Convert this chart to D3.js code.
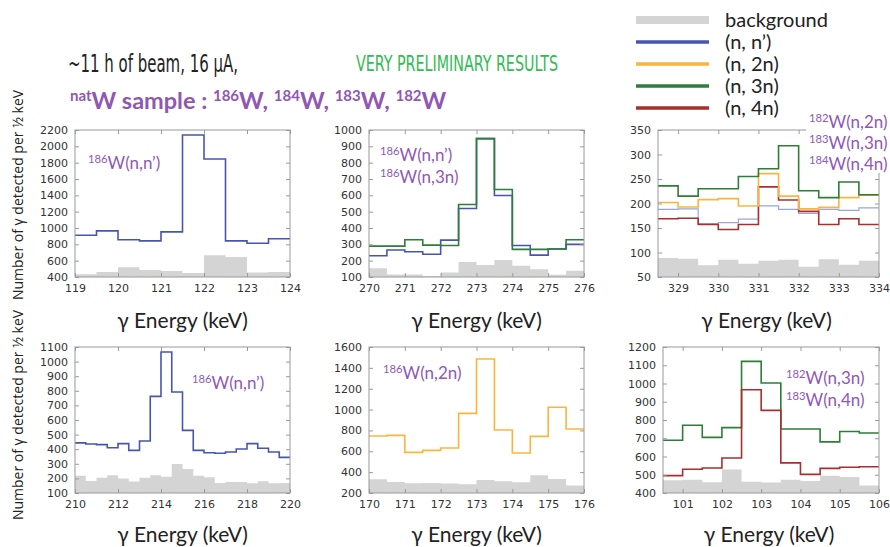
<!DOCTYPE html>
<html><head><meta charset="utf-8">
<script src="https://cdn.jsdelivr.net/npm/d3@7"></script>
<style>body{margin:0;background:#fff}</style>
</head><body>
<svg id="c" width="890" height="547"></svg>
<script>
// ---------- DATA (counts per 0.5 keV bin) ----------
const p1X = [119, 124], p1Y = [400, 2200];
const p1XTicks = [119, 120, 121, 122, 123, 124];
const p1YTicks = [400, 600, 800, 1000, 1200, 1400, 1600, 1800, 2000, 2200];
const p1_bg = [433, 462, 519, 486, 474, 450, 666, 646, 454, 462];
const p1_nn = [912, 965, 856, 842, 952, 2139, 1844, 842, 813, 868];

const p2X = [270, 276], p2Y = [100, 1000];
const p2XTicks = [270, 271, 272, 273, 274, 275, 276];
const p2YTicks = [100, 200, 300, 400, 500, 600, 700, 800, 900, 1000];
const p2_bg = [153, 116, 116, 106, 127, 192, 173, 204, 169, 147, 114, 139];
const p2_nn = [230, 265, 255, 239, 326, 519, 947, 599, 293, 234, 271, 300];
const p2_3n = [289, 289, 328, 295, 293, 544, 947, 636, 269, 269, 271, 328];

const p3X = [328.5, 334], p3Y = [50, 350];
const p3XTicks = [329, 330, 331, 332, 333, 334];
const p3YTicks = [50, 100, 150, 200, 250, 300, 350];
const p3_bg = [89, 87, 74, 85, 77, 83, 85, 71, 86, 75, 83];
const p3_nn = [188, 189, 159, 161, 168, 195, 188, 180, 188, 186, 191];
const p3_2n = [202, 193, 208, 210, 195, 261, 215, 189, 192, 212, 217];
const p3_3n = [236, 215, 230, 230, 255, 271, 318, 226, 212, 244, 218];
const p3_4n = [169, 170, 157, 147, 157, 234, 207, 184, 157, 169, 157];

const p4X = [210, 220], p4Y = [100, 1100];
const p4XTicks = [210, 212, 214, 216, 218, 220];
const p4YTicks = [100, 200, 300, 400, 500, 600, 700, 800, 900, 1000, 1100];
const p4_bg = [219, 182, 205, 221, 200, 178, 205, 221, 212, 299, 265, 219, 208, 169, 176, 176, 166, 180, 166, 169];
const p4_nn = [443, 436, 431, 410, 438, 392, 456, 762, 1066, 792, 529, 392, 376, 372, 381, 401, 438, 406, 381, 344];

const p5X = [170, 176], p5Y = [200, 1600];
const p5XTicks = [170, 171, 172, 173, 174, 175, 176];
const p5YTicks = [200, 400, 600, 800, 1000, 1200, 1400, 1600];
const p5_bg = [331, 305, 293, 296, 290, 283, 325, 312, 302, 370, 334, 273];
const p5_2n = [747, 753, 590, 609, 632, 964, 1485, 804, 584, 743, 1022, 814];

const p6X = [100.5, 106], p6Y = [400, 1200];
const p6XTicks = [101, 102, 103, 104, 105, 106];
const p6YTicks = [400, 500, 600, 700, 800, 900, 1000, 1100, 1200];
const p6_bg = [470, 473, 459, 529, 462, 457, 473, 466, 495, 488, 441];
const p6_3n = [689, 771, 705, 758, 1121, 1003, 751, 751, 680, 737, 729];
const p6_4n = [495, 530, 537, 592, 966, 853, 565, 502, 535, 541, 544];

const legendLabels = ["background", "(n, n\u2019)", "(n, 2n)", "(n, 3n)", "(n, 4n)"];
const binWidth = 0.5;

// ---------- STYLE ----------
const C = {bg: "#d4d4d4", nn: "#4656b0", nnLight: "#9aa6d6", n2: "#fbb53e", n3: "#2e7d38", n4: "#a92f2f",
           purple: "#8f58b3", green: "#33bb55", frame: "#9a9a9a", tick: "#333"};
const svg = d3.select("#c");
const purpleAnn = (g, x, y, sup, rest, size) => {
  const t = g.append("text").attr("x", x).attr("y", y).attr("fill", C.purple)
    .attr("font-family", "Lato, 'Open Sans', sans-serif").attr("font-size", size || 17);
  t.append("tspan").attr("font-size", (size || 17) * 0.66).attr("dy", -6).text(sup);
  t.append("tspan").attr("dy", 6).text(rest);
  return t;
};

const panels = [
  {box: [75, 290, 130, 277], X: p1X, Y: p1Y, xt: p1XTicks, yt: p1YTicks, bg: p1_bg,
   lines: [[p1_nn, C.nn, 1.6]]},
  {box: [369, 584, 130, 277], X: p2X, Y: p2Y, xt: p2XTicks, yt: p2YTicks, bg: p2_bg,
   lines: [[p2_nn, C.nn, 1.6], [p2_3n, C.n3, 1.6]]},
  {box: [658, 879, 130, 277], X: p3X, Y: p3Y, xt: p3XTicks, yt: p3YTicks, bg: p3_bg,
   lines: [[p3_nn, C.nnLight, 1.2], [p3_4n, C.n4, 1.6], [p3_2n, C.n2, 1.6], [p3_3n, C.n3, 1.6]]},
  {box: [75, 290, 347, 493], X: p4X, Y: p4Y, xt: p4XTicks, yt: p4YTicks, bg: p4_bg,
   lines: [[p4_nn, C.nn, 1.6]]},
  {box: [369, 584, 347, 493], X: p5X, Y: p5Y, xt: p5XTicks, yt: p5YTicks, bg: p5_bg,
   lines: [[p5_2n, C.n2, 1.6]]},
  {box: [663, 879, 347, 493], X: p6X, Y: p6Y, xt: p6XTicks, yt: p6YTicks, bg: p6_bg,
   lines: [[p6_3n, C.n3, 1.6], [p6_4n, C.n4, 1.6]]}
];

panels.forEach((p, i) => {
  const [x0, x1, y0, y1] = p.box;
  const x = d3.scaleLinear().domain(p.X).range([x0, x1]);
  const y = d3.scaleLinear().domain(p.Y).range([y1, y0]);
  const g = svg.append("g");
  const pts = arr => {
    const a = arr.map((v, k) => [p.X[0] + k * binWidth, v]);
    a.push([p.X[0] + arr.length * binWidth, arr[arr.length - 1]]);
    return a;
  };
  g.append("path").datum(pts(p.bg))
    .attr("d", d3.area().x(d => x(d[0])).y0(y(p.Y[0])).y1(d => y(d[1])).curve(d3.curveStepAfter))
    .attr("fill", C.bg);
  p.lines.forEach(([arr, col, w]) => {
    g.append("path").datum(pts(arr))
      .attr("d", d3.line().x(d => x(d[0])).y(d => y(d[1])).curve(d3.curveStepAfter))
      .attr("fill", "none").attr("stroke", col).attr("stroke-width", w);
  });
  // frame
  g.append("rect").attr("x", x0).attr("y", y0).attr("width", x1 - x0).attr("height", y1 - y0)
    .attr("fill", "none").attr("stroke", C.frame).attr("stroke-width", 1);
  const styleAxis = sel => {
    sel.select(".domain").remove();
    sel.selectAll(".tick line").attr("stroke", C.frame);
    sel.selectAll(".tick text").attr("fill", C.tick).attr("font-family", "'DejaVu Sans', sans-serif").attr("font-size", 11);
  };
  g.append("g").attr("transform", `translate(0,${y1})`)
    .call(d3.axisBottom(x).tickValues(p.xt).tickFormat(d3.format("d")).tickSizeInner(-4).tickSizeOuter(0).tickPadding(7))
    .call(styleAxis);
  g.append("g").attr("transform", `translate(0,${y0})`)
    .call(d3.axisTop(x).tickValues(p.xt).tickFormat("").tickSizeInner(-4).tickSizeOuter(0))
    .call(styleAxis);
  g.append("g").attr("transform", `translate(${x0},0)`)
    .call(d3.axisLeft(y).tickValues(p.yt).tickFormat(d3.format("d")).tickSizeInner(-4).tickSizeOuter(0).tickPadding(7))
    .call(styleAxis);
  g.append("g").attr("transform", `translate(${x1},0)`)
    .call(d3.axisRight(y).tickValues(p.yt).tickFormat("").tickSizeInner(-4).tickSizeOuter(0))
    .call(styleAxis);
  // x title
  const xt = svg.append("text").attr("x", (x0 + x1) / 2 + (i % 3 === 2 ? -2 : 0)).attr("y", i < 3 ? 328 : 542)
    .attr("text-anchor", "middle").attr("font-family", "Lato, 'Open Sans', sans-serif").attr("font-size", 21).attr("fill", "#222");
  xt.text("\u03b3 Energy (keV)");
});

// y titles
[195, 415].forEach(cy => {
  svg.append("text").attr("transform", `translate(23,${cy}) rotate(-90)`).attr("text-anchor", "middle")
    .attr("font-family", "'Open Sans', sans-serif").attr("font-size", 14).attr("fill", "#222")
    .text("Number of \u03b3 detected per \u00bd keV");
});

// annotations
purpleAnn(svg, 88, 169, "186", "W(n,n\u2019)");
purpleAnn(svg, 380, 161, "186", "W(n,n\u2019)");
purpleAnn(svg, 380, 183, "186", "W(n,3n)");
const annBg = svg.append("g");
annBg.append("rect").attr("x", 806).attr("y", 112).attr("width", 84).attr("height", 61).attr("fill", "#fff");
purpleAnn(annBg, 809, 128, "182", "W(n,2n)");
purpleAnn(annBg, 809, 149, "183", "W(n,3n)");
purpleAnn(annBg, 809, 170, "184", "W(n,4n)");
purpleAnn(svg, 192, 389, "186", "W(n,n\u2019)");
purpleAnn(svg, 383, 379, "186", "W(n,2n)");
purpleAnn(svg, 786, 384, "182", "W(n,3n)");
purpleAnn(svg, 786, 406, "183", "W(n,4n)");

// header texts
svg.append("text").attr("x", 68).attr("y", 72).attr("font-family", "'Liberation Sans Narrow', 'DejaVu Sans Condensed', sans-serif")
  .attr("font-size", 24).attr("fill", "#222").attr("textLength", 170).attr("lengthAdjust", "spacingAndGlyphs")
  .text("~11 h of beam, 16 \u00b5A,");
svg.append("text").attr("x", 356).attr("y", 71).attr("font-family", "'Liberation Sans Narrow', 'DejaVu Sans Condensed', sans-serif")
  .attr("font-size", 22).attr("fill", C.green).attr("textLength", 202).attr("lengthAdjust", "spacingAndGlyphs")
  .text("VERY PRELIMINARY RESULTS");
const title = svg.append("text").attr("x", 70).attr("y", 109).attr("font-family", "Lato, 'Open Sans', sans-serif")
  .attr("font-weight", "bold").attr("font-size", 23.5).attr("fill", C.purple);
[["nat", "W sample : "], ["186", "W, "], ["184", "W, "], ["183", "W, "], ["182", "W"]].forEach(([s, r]) => {
  title.append("tspan").attr("font-size", 15).attr("dy", -8).text(s);
  title.append("tspan").attr("dy", 8).text(r);
});

// legend
const legCols = [C.bg, C.nn, C.n2, C.n3, C.n4];
const legY = [20, 42, 64, 86, 108];
legendLabels.forEach((lab, k) => {
  svg.append("line").attr("x1", 636).attr("x2", 709).attr("y1", legY[k]).attr("y2", legY[k])
    .attr("stroke", legCols[k]).attr("stroke-width", k === 0 ? 8 : 3.5);
  svg.append("text").attr("x", 725).attr("y", legY[k] + 7).attr("font-family", "Lato, 'Open Sans', sans-serif")
    .attr("font-size", 20).attr("fill", "#222").text(lab);
});
</script>
</body></html>
